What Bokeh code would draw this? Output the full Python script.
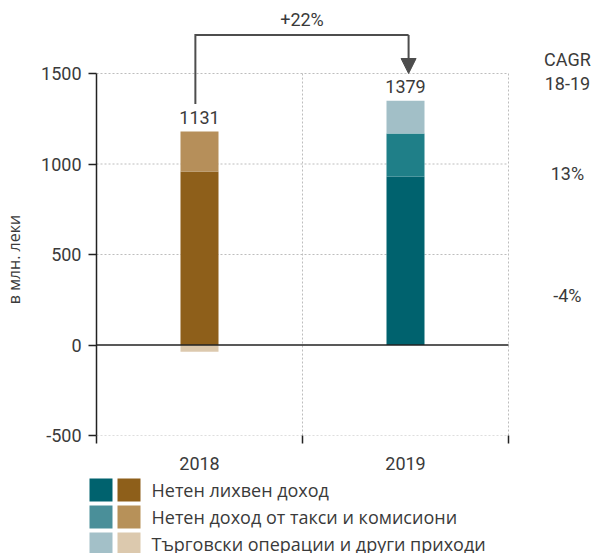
from bokeh.plotting import figure
from bokeh.models import Range1d, FixedTicker, Arrow, NormalHead
from bokeh.layouts import column, row
from bokeh.core.properties import value
from bokeh.embed import file_html
from bokeh.resources import INLINE

# ---------------- data ----------------
years = ["2018", "2019"]
net_interest = [959, 931]
net_fees = [220, 238]
trading_other = [-37, 181]
totals = [1131, 1379]
growth_label = "+22%"
cagr_header = ["CAGR", "18-19"]
cagr_values = ["13%", "-4%"]
series_names = [
    "Нетен лихвен доход",
    "Нетен доход от такси и комисиони",
    "Търговски операции и други приходи",
]
y_ticks = [-500, 0, 500, 1000, 1500]

# ---------------- styles ----------------
FONT = "Roboto"
LFONT = "Open Sans"
TXT = "#3a3a3a"
teal_bar = ["#00626E", "#1F7F88", "#A2BFC7"]
brown_bar = ["#8E5F1A", "#B68F5A", "#DCC9AE"]
teal_leg = ["#00626E", "#4A8F99", "#A3C0C8"]
brown_leg = ["#8E5F1A", "#B79159", "#DCC9AE"]
bar_colors = [brown_bar, teal_bar]

W = 596
LEFT = 96
PX_X = 206.0           # pixels per category
PX_Y = 362.0 / 2000.0  # pixels per value unit
TOP_PAD = 73           # pixels above 1500 inside frame
FRAME_H = 435
BOTTOM = 37
LH = 81

n = len(years)
ymin, ymax = y_ticks[0], y_ticks[-1]
x_end = (W - LEFT) / PX_X
y_end = ymax + TOP_PAD / PX_Y

p = figure(width=W, height=FRAME_H + BOTTOM,
           x_range=Range1d(0, x_end), y_range=Range1d(ymin, y_end),
           output_backend="svg", toolbar_location=None,
           min_border_left=LEFT, min_border_right=0,
           min_border_top=0, min_border_bottom=BOTTOM)
p.outline_line_color = None
p.xgrid.visible = False
p.ygrid.visible = False

# manual grid (restricted to the chart area)
grid_kw = dict(line_color="#BDBDBD", line_width=1, line_dash="2 2")
gy = [t for t in y_ticks if t != 0]
p.segment(x0=[0] * len(gy), x1=[n] * len(gy), y0=gy, y1=gy, **grid_kw)
gx = list(range(1, n + 1))
p.segment(x0=gx, x1=gx, y0=[ymin] * len(gx), y1=[ymax] * len(gx), **grid_kw)

# stacked bars
bw = 38 / PX_X
for i in range(n):
    xc = i + 0.5
    a, b, c = net_interest[i], net_fees[i], trading_other[i]
    segs = [(0, a), (a, a + b)]
    if c >= 0:
        segs.append((a + b, a + b + c))
    else:
        segs.append((c, 0))
    for k, (lo, hi) in enumerate(segs):
        p.vbar(x=[xc], width=bw, bottom=[lo], top=[hi],
               fill_color=bar_colors[i][k], line_color=None)

# zero line
p.segment(x0=[0], x1=[n], y0=[0], y1=[0], line_color="#222222", line_width=1.5)

# total labels (centred a few pixels above the stack)
tops = [net_interest[i] + net_fees[i] + max(trading_other[i], 0) for i in range(n)]
p.text(x=[i + 0.5 for i in range(n)], y=[t + 14 / PX_Y for t in tops],
       text=[str(t) for t in totals],
       text_align="center", text_baseline="middle",
       text_font=value(FONT), text_font_size="18px", text_color=TXT)

# growth bracket + arrow
ARC = "#4D4D4D"
bx0, bx1 = 0.48, 1.515
by_start, by_top, by_tip = 1331, 1713, ymax
p.line(x=[bx0, bx0, bx1], y=[by_start, by_top, by_top], line_color=ARC,
       line_width=2, line_join="miter")
p.add_layout(Arrow(end=NormalHead(size=15, fill_color=ARC, line_color=ARC),
                   x_start=bx1, y_start=by_top, x_end=bx1, y_end=by_tip,
                   line_color=ARC, line_width=2))
p.text(x=[(bx0 + bx1) / 2], y=[1796], text=[growth_label], text_align="center",
       text_baseline="middle", text_font=value(FONT), text_font_size="18px",
       text_color=TXT)

# CAGR column
cx = 2.286
p.text(x=[cx, cx], y=[1580, 1442], text=cagr_header, text_align="center",
       text_baseline="middle", text_font=value(FONT), text_font_size="18px",
       text_color=TXT)
p.text(x=[cx, cx], y=[950, 271], text=cagr_values, text_align="center",
       text_baseline="middle", text_font=value(FONT), text_font_size="18px",
       text_color=TXT)

# axes
yax = p.yaxis[0]
yax.ticker = FixedTicker(ticks=y_ticks)
yax.major_label_overrides = {t: str(t) for t in y_ticks}
yax.bounds = (ymin, ymax)
yax.axis_line_color = "#222222"
yax.axis_line_width = 1.5
yax.major_tick_out = 8
yax.major_tick_in = 0
yax.major_tick_line_color = "#222222"
yax.major_tick_line_width = 1.5
yax.minor_tick_line_color = None
yax.major_label_standoff = 7
yax.major_label_text_font = FONT
yax.major_label_text_font_size = "18px"
yax.major_label_text_color = TXT
# label centred on the -500..1500 span (padding with no-break spaces)
yax.axis_label = "в млн. леки" + "\u00a0" * 20
yax.axis_label_text_font = LFONT
yax.axis_label_text_font_style = "normal"
yax.axis_label_text_font_size = "16px"
yax.axis_label_text_color = TXT
yax.axis_label_standoff = 13

xax = p.xaxis[0]
xax.ticker = FixedTicker(ticks=[i + 0.5 for i in range(n)],
                         minor_ticks=list(range(0, n + 1)))
xax.major_label_overrides = {i + 0.5: years[i] for i in range(n)}
xax.axis_line_color = None
xax.major_tick_line_color = None
xax.major_tick_out = 0
xax.major_tick_in = 0
xax.minor_tick_out = 8
xax.minor_tick_in = 0
xax.minor_tick_line_color = "#222222"
xax.minor_tick_line_width = 1.5
xax.major_label_standoff = 13
xax.major_label_text_font = FONT
xax.major_label_text_font_size = "18px"
xax.major_label_text_color = TXT

# ---------------- legend figure ----------------
leg = figure(width=W, height=LH, x_range=Range1d(0, W), y_range=Range1d(LH, 0),
             output_backend="svg", toolbar_location=None, min_border=0,
             min_border_left=0, min_border_right=0, min_border_top=0,
             min_border_bottom=0, x_axis_type=None, y_axis_type=None)
leg.outline_line_color = None
leg.grid.visible = False
sw = 23
row_gap = 27
rows_y = [6 + sw / 2 + row_gap * i for i in range(len(series_names))]
leg.rect(x=[89 + sw / 2] * 3, y=rows_y, width=sw, height=sw,
         fill_color=teal_leg, line_color=None)
leg.rect(x=[117 + sw / 2] * 3, y=rows_y, width=sw, height=sw,
         fill_color=brown_leg, line_color=None)
leg.text(x=[151] * 3, y=rows_y, text=series_names, text_baseline="middle",
         text_font=value(LFONT), text_font_size="18px", text_color=TXT)

layout = column(p, row(leg), spacing=0)
open("out.html", "w").write(file_html(layout, INLINE))
